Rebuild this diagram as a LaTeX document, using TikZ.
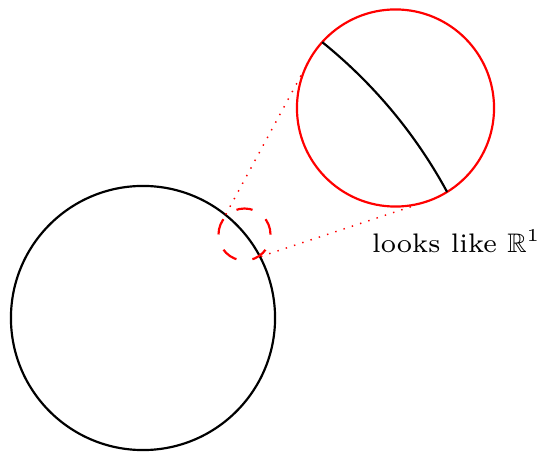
\documentclass[tikz,border=0pt]{standalone}
\usepackage{amsmath}
\usepackage{amssymb}
\usepackage{xcolor}
\usetikzlibrary{calc}

\begin{document}
\begin{tikzpicture}[x=0.276pt, y=-0.276pt,
    disc/.style={circle, draw, semithick, inner sep=0pt, outer sep=0pt}]
    \useasboundingbox (0,0) rectangle (543,453);
    \node[disc, minimum size=72.9pt] (ball) at (143,318) {};
    \node[disc, red, dash pattern=on 4.5pt off 4.5pt, minimum size=14.35pt] (spot) at (244.5,234.5) {};
    \node[disc, red, minimum size=54.4pt] (lens) at (395.5,108) {};
    \begin{scope}
        \clip (lens.center) circle[radius=98.5];
        \draw[semithick] (12.5,427) circle[radius=494];
    \end{scope}
    \coordinate (h) at ($(spot.center)!-0.3586!(lens.center)$);
    \foreach \s in {1,2} {
        \draw[red, dotted] (tangent cs:node=spot,point={(h)},solution=\s)
            -- (tangent cs:node=lens,point={(h)},solution=\s);
    }
    \node[font=\fontsize{7.4}{9}\selectfont] (label) at (456.5,241) {looks like $\mathbb{R}^1$};
\end{tikzpicture}
\end{document}
